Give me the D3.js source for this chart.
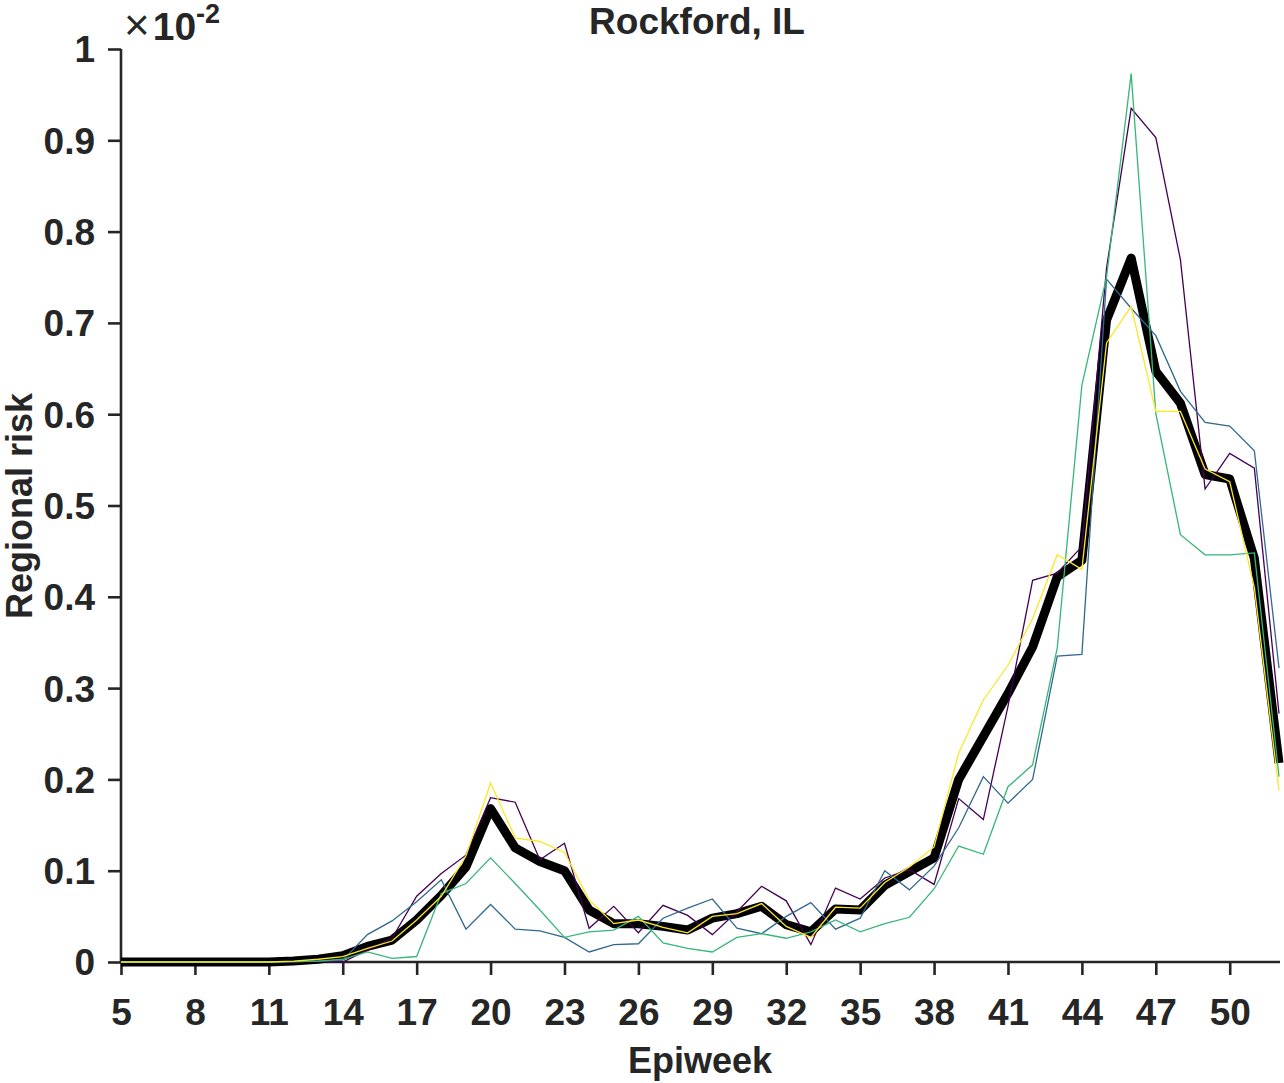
<!DOCTYPE html>
<html><head><meta charset="utf-8">
<script src="https://cdn.jsdelivr.net/npm/d3@7"></script>
<style>
body{margin:0;background:#fff}
text{font-family:"Liberation Sans",Arial,Helvetica,sans-serif;font-weight:bold;fill:#262626}
</style>
</head><body><svg id="c" width="1284" height="1083"></svg>
<script>
const weeks = [5,6,7,8,9,10,11,12,13,14,15,16,17,18,19,20,21,22,23,24,25,26,27,28,29,30,31,32,33,34,35,36,37,38,39,40,41,42,43,44,45,46,47,48,49,50,51,52];
const meanRisk = [0,0,0,0,0,0,0,0.001,0.003,0.007,0.017,0.024,0.046,0.073,0.104,0.168,0.125,0.110,0.100,0.057,0.042,0.042,0.039,0.035,0.048,0.053,0.061,0.041,0.033,0.058,0.057,0.084,0.099,0.114,0.200,0.247,0.294,0.345,0.422,0.440,0.703,0.771,0.647,0.612,0.534,0.529,0.442,0.218];
const runPurple = [0,0,0,0,0,0,0,0,0.001,0,0.013,0.026,0.072,0.097,0.117,0.180,0.175,0.112,0.130,0.037,0.061,0.032,0.062,0.051,0.030,0.055,0.083,0.067,0.019,0.081,0.069,0.092,0.101,0.085,0.179,0.156,0.280,0.418,0.426,0.455,0.760,0.935,0.903,0.769,0.518,0.557,0.541,0.272];
const runBlue = [0,0,0,0,0,0,0,0.0005,0.001,0.002,0.030,0.045,0.066,0.090,0.036,0.063,0.036,0.034,0.027,0.011,0.019,0.020,0.048,0.059,0.069,0.037,0.031,0.050,0.065,0.036,0.048,0.100,0.079,0.105,0.147,0.203,0.174,0.200,0.335,0.337,0.748,0.716,0.686,0.625,0.591,0.587,0.560,0.322];
const runGreen = [0,0,0,0,0,0,0,0.0005,0.001,0.003,0.011,0.004,0.006,0.075,0.086,0.114,0.086,0.057,0.027,0.033,0.035,0.050,0.021,0.015,0.011,0.027,0.031,0.026,0.033,0.046,0.033,0.042,0.049,0.080,0.127,0.118,0.192,0.216,0.344,0.632,0.750,0.973,0.601,0.468,0.446,0.446,0.448,0.203];
const runYellow = [0,0,0,0,0,0,0,0.001,0.003,0.006,0.015,0.023,0.046,0.072,0.116,0.196,0.136,0.132,0.120,0.068,0.042,0.046,0.038,0.032,0.050,0.053,0.064,0.039,0.027,0.060,0.059,0.087,0.104,0.126,0.229,0.287,0.325,0.376,0.446,0.430,0.678,0.718,0.603,0.603,0.540,0.526,0.410,0.188];
const xTicks = [5,8,11,14,17,20,23,26,29,32,35,38,41,44,47,50];
const yTicks = [0,0.1,0.2,0.3,0.4,0.5,0.6,0.7,0.8,0.9,1];
const yTickLabels = ["0","0.1","0.2","0.3","0.4","0.5","0.6","0.7","0.8","0.9","1"];
const titleText = "Rockford, IL";
const xLabel = "Epiweek";
const yLabel = "Regional risk";

const svg = d3.select("#c");
const x = d3.scaleLinear().domain([5,52]).range([121,1279]);
const y = d3.scaleLinear().domain([0,1]).range([962,49]);
const axisColor = "#262626";

// x axis
const gx = svg.append("g").attr("transform","translate(0,962)")
  .call(d3.axisBottom(x).tickValues(xTicks).tickSize(13).tickPadding(24).tickFormat(d3.format("d")));
gx.select(".domain").attr("stroke",axisColor).attr("stroke-width",2.6).attr("d","M121,0H1280");
gx.selectAll(".tick line").attr("stroke",axisColor).attr("stroke-width",2.6);
gx.selectAll(".tick text").attr("font-size",37).attr("fill",axisColor).attr("font-family","Liberation Sans, Arial, sans-serif").attr("font-weight","bold");

// y axis
const gy = svg.append("g").attr("transform","translate(121,0)")
  .call(d3.axisLeft(y).tickValues(yTicks).tickSize(13).tickPadding(13).tickFormat((d,i)=>yTickLabels[i]));
gy.select(".domain").attr("stroke",axisColor).attr("stroke-width",2.6).attr("d","M0,963V49");
gy.selectAll(".tick line").attr("stroke",axisColor).attr("stroke-width",2.6);
gy.selectAll(".tick text").attr("font-size",37).attr("fill",axisColor).attr("font-family","Liberation Sans, Arial, sans-serif").attr("font-weight","bold").attr("dy","0.35em");

// lines
const line = d3.line().x((d,i)=>x(weeks[i])).y(d=>y(d));
svg.append("path").datum(meanRisk).attr("d",line).attr("fill","none").attr("stroke","#000").attr("stroke-width",9).attr("stroke-linejoin","round");
const runs = [[runPurple,"#440154"],[runBlue,"#31688e"],[runGreen,"#35b779"],[runYellow,"#fde725"]];
runs.forEach(([vals,col])=>{
  svg.append("path").datum(vals).attr("d",line).attr("fill","none").attr("stroke",col).attr("stroke-width",1.3);
});

// title & labels
svg.append("text").attr("x",697).attr("y",34).attr("text-anchor","middle").attr("font-size",37).attr("fill","#000").text(titleText);
svg.append("text").attr("x",700).attr("y",1073).attr("text-anchor","middle").attr("font-size",36).text(xLabel);
svg.append("text").attr("transform","translate(32,506) rotate(-90)").attr("text-anchor","middle").attr("font-size",36).text(yLabel);

// exponent
const ex = svg.append("text").attr("x",124).attr("y",40).attr("font-size",39);
ex.append("tspan").attr("font-weight","normal").attr("font-size",44).text("\u00d7");
ex.append("tspan").attr("dx",3).text("10");
ex.append("tspan").attr("font-size",27).attr("dy",-17).text("-2");
</script></body></html>
